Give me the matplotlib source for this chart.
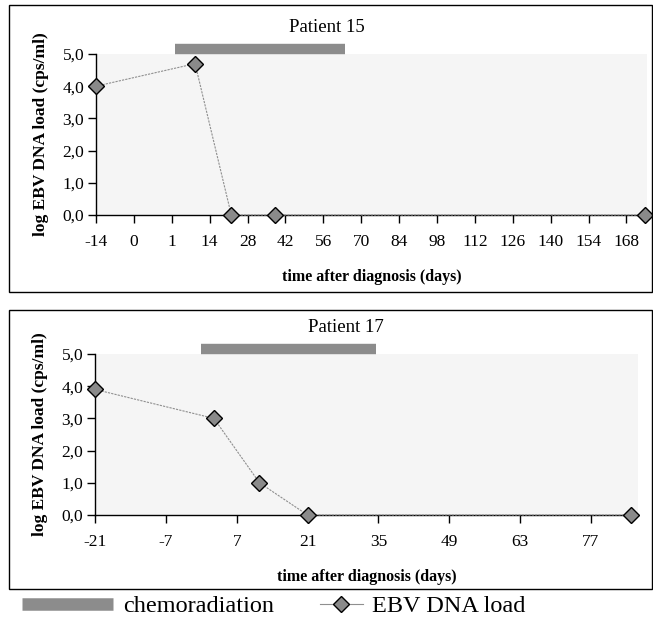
import numpy as np
import matplotlib
matplotlib.use("Agg")
import matplotlib.pyplot as plt
from matplotlib.patches import Rectangle
from matplotlib.lines import Line2D

plt.rcParams['font.family'] = ['Liberation Serif', 'DejaVu Serif']

# Patient 15 (irregular excel-style time axis)
p15_ticks = [-14, 0, 1, 14, 28, 42, 56, 70, 84, 98, 112, 126, 140, 154, 168]
p15_days = [-14, 9, 22, 38, 175]
p15_load = [4.0, 4.7, 0.0, 0.0, 0.0]
p15_chemo = [2, 64]

# Patient 17
p17_ticks = [-21, -7, 7, 21, 35, 49, 63, 77]
p17_days = [-21, 2.5, 11.5, 21, 85]
p17_load = [3.9, 3.0, 1.0, 0.0, 0.0]
p17_chemo = [0, 34.5]

y_ticks = [0, 1, 2, 3, 4, 5]
y_labels = ['0,0', '1,0', '2,0', '3,0', '4,0', '5,0']

W, H = 653, 619
fig = plt.figure(figsize=(W / 100, H / 100), dpi=100)

def fx(px):
    return px / W

def fy(px):
    return 1 - px / H

BAR_COLOR = '#8c8c8c'
MARKER = dict(marker='D', markersize=7.8, markerfacecolor='#8a8a8a',
              markeredgecolor='black', markeredgewidth=1.0)

def draw_panel(ax, days, load, chemo, ticks):
    ax.set_facecolor('#f5f5f5')
    ax.plot(days, load, color='#8f8f8f', lw=0.8, linestyle=(0, (2, 1)),
            clip_on=False, zorder=3, **MARKER)
    # chemoradiation bar sits just above the plot area
    ax.plot(chemo, [5.17, 5.17], color=BAR_COLOR, lw=7.5,
            solid_capstyle='butt', clip_on=False)
    ax.set_ylim(0, 5)
    ax.set_yticks(y_ticks)
    ax.set_yticklabels(y_labels)
    ax.set_xticks(ticks)
    ax.set_xticklabels([str(t) for t in ticks])
    for s in ['top', 'right']:
        ax.spines[s].set_visible(False)
    for s in ['left', 'bottom']:
        ax.spines[s].set_linewidth(1.0)
        ax.spines[s].set_zorder(2)
    ax.tick_params(axis='x', direction='out', length=5.5, width=1.0,
                   pad=8, labelsize=12.5)
    ax.tick_params(axis='y', direction='out', length=5.5, width=1.0,
                   pad=3, labelsize=12.5)
    ax.set_xlabel('time after diagnosis (days)', fontweight='bold',
                  fontsize=11.5, labelpad=14)
    ax.set_ylabel('log EBV DNA load (cps/ml)', fontweight='bold',
                  fontsize=12.5, labelpad=10)

# top panel
ax1 = fig.add_axes([fx(96), fy(215), fx(647 - 96), (215 - 54) / H])
idx = np.arange(len(p15_ticks) + 1)
tick_ext = np.array(p15_ticks + [182])
fwd = lambda d: np.interp(d, tick_ext, idx)
inv = lambda i: np.interp(i, idx, tick_ext)
ax1.set_xscale('function', functions=(fwd, inv))
ax1.set_xlim(-14, 175.6)
draw_panel(ax1, p15_days, p15_load, p15_chemo, p15_ticks)

# bottom panel
ax2 = fig.add_axes([fx(95), fy(515), fx(638 - 95), (515 - 354) / H])
ax2.set_xlim(-21, 86.3)
draw_panel(ax2, p17_days, p17_load, p17_chemo, p17_ticks)

fig.text(fx(327), fy(28), 'Patient 15', ha='center', va='center', fontsize=13.5)
fig.text(fx(346), fy(327), 'Patient 17', ha='center', va='center', fontsize=13.5)

# frames around the two charts
for top, bot in [(5, 292), (309.5, 589)]:
    fig.add_artist(Rectangle((fx(8.5), fy(bot)), fx(651.5 - 8.5), (bot - top) / H,
                             transform=fig.transFigure, fill=False,
                             edgecolor='black', lw=1.0))

# legend
chemo_h = Line2D([], [], color=BAR_COLOR, lw=9, solid_capstyle='butt')
ebv_h = Line2D([], [], color='#8f8f8f', lw=0.8, **MARKER)
fig.legend([chemo_h], ['chemoradiation'], loc='center left',
           bbox_to_anchor=(fx(22), fy(606)), frameon=False, fontsize=17.5,
           handlelength=3.75, handletextpad=0.4, borderpad=0, borderaxespad=0)
fig.legend([ebv_h], ['EBV DNA load'], loc='center left',
           bbox_to_anchor=(fx(320), fy(606)), frameon=False, fontsize=17.5,
           handlelength=1.75, handletextpad=0.4, borderpad=0, borderaxespad=0)

fig.savefig('out.png', dpi=100)
